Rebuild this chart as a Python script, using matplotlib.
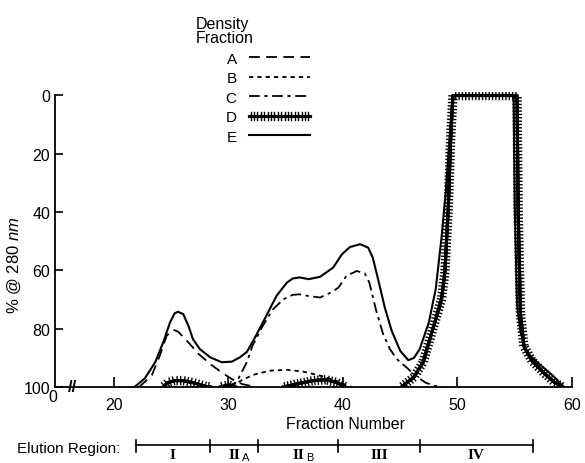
import matplotlib
matplotlib.use("Agg")
import matplotlib.pyplot as plt
import matplotlib.patheffects as pe
import matplotlib.transforms as mtrans

plt.rcParams['font.family'] = ['Liberation Sans', 'DejaVu Sans']
plt.rcParams['mathtext.fontset'] = 'custom'
plt.rcParams['mathtext.rm'] = 'Liberation Sans'
plt.rcParams['mathtext.it'] = 'Liberation Sans:italic'

# --- valeurs (x = numero de fraction, y = % @ 280 nm) ---
xA = [22.2, 23.3, 24.0, 24.6, 25.2, 25.6, 26.5, 27.4, 28.4, 29.4, 30.3, 31.2, 32.4]
yA = [100, 96, 89.3, 82.4, 80.4, 81, 84.7, 88.7, 92.1, 95, 97.3, 99, 100]

xB = [30.3, 31.0, 32.1, 33.6, 35.1, 36.5, 38.0, 39.4, 40.3, 40.8]
yB = [100, 98, 95.9, 94.4, 94.1, 94.7, 96.1, 97.8, 99.5, 100]

xC = [29.8, 30.7, 31.6, 32.1, 33.0, 33.9, 34.8, 35.6, 36.2, 37.0, 38.0, 39.0,
      39.6, 40.3, 41.2, 41.9, 42.3, 42.9, 43.5, 44.1, 44.7, 45.55, 46.3, 47.2,
      48.0, 48.7]
yC = [100, 98.4, 91.5, 85.8, 79, 73.3, 69.9, 68.4, 68.2, 68.8, 69.3, 67.5,
      65.9, 61.9, 60.2, 61, 64.2, 73.8, 81.8, 87, 90.4, 93.3, 96, 98.5,
      99.6, 100]

# D : plusieurs morceaux separes
xD = [[24.3, 24.7, 25.3, 26.0, 26.8, 27.5, 28.0, 28.4],
      [29.3, 30.0, 30.6],
      [34.8, 35.9, 37.4, 38.5, 39.4, 40.0, 40.2],
      [45.1, 46.2, 47.0, 47.5, 48.1, 48.6, 48.9, 49.2, 49.4, 49.6,
       55.2, 55.3, 55.5, 55.8, 56.5, 57.5, 58.5, 59.2]]
yD = [[100, 98.5, 97.8, 97.8, 98.4, 99.2, 99.8, 100],
      [100, 99.3, 100],
      [100, 99, 97.8, 97.5, 98.4, 99.5, 100],
      [100, 96.6, 91.5, 84.7, 76.7, 70, 60.6, 38, 15, 0,
       0, 40, 75, 86, 91, 95, 98.5, 100]]

xE = [21.8, 22.7, 23.6, 24.3, 24.9, 25.3, 25.6, 26.05, 26.5, 26.9, 27.5, 28.4,
      29.4, 30.3, 31.0, 31.6, 32.4, 33.3, 34.2, 35.1, 35.6, 36.2, 37.0, 38.0,
      39.15, 39.9, 40.6, 41.5, 42.2, 42.6, 43.1, 43.65, 44.25, 45.0, 45.7, 46.2,
      46.7, 47.5, 48.1, 48.6, 49.0, 49.4, 49.6, 54.9, 55.0, 55.2, 55.5, 56.0,
      57.1, 58.3, 59.3]
yE = [100, 97, 91.5, 84.7, 77.8, 74.7, 74.2, 75, 79, 83.6, 87, 89.8,
      91.5, 91.3, 89.8, 88, 82.4, 75.6, 68.7, 64.2, 62.8, 62.4, 63, 62.2,
      59, 54.5, 52, 51, 52.2, 55.6, 63.6, 72.7, 80.7, 87.6, 90.8, 90,
      87, 77.8, 66.4, 49, 32, 9, 0, 0, 38, 72, 81, 88,
      92, 96, 100]

# regions d'elution
bornes = [21.9, 28.4, 32.6, 39.6, 46.7, 56.6]
regions = ["I", "II", "II", "III", "IV"]
indices = ["", "A", "B", "", ""]

fig = plt.figure(figsize=(5.85, 4.64), dpi=100)
W, H = 585., 464.
ax = fig.add_axes([55/W, 1-388/H, (572-55)/W, (388-93)/H])

lw = 1.3
hachure = [pe.Normal(),
           pe.withTickedStroke(angle=90, spacing=2.4, length=1.2, linewidth=1.0),
           pe.withTickedStroke(angle=-90, spacing=2.4, length=1.2, linewidth=1.0)]
lA, = ax.plot(xA, yA, color='black', lw=lw, linestyle=(0, (6, 3.5)))
lB, = ax.plot(xB, yB, color='black', lw=lw, linestyle=(0, (2.4, 2.2)))
lC, = ax.plot(xC, yC, color='black', lw=lw, linestyle=(0, (6, 2.5, 1.8, 2.5)))
for xs, ys in zip(xD, yD):
    lD, = ax.plot(xs, ys, color='black', lw=2.2, path_effects=hachure)
lE, = ax.plot(xE, yE, color='black', lw=1.5)

ax.set_xlim(14.85, 60)
ax.set_ylim(100, -1.2)
for s in ['top', 'right']:
    ax.spines[s].set_visible(False)
ax.spines['left'].set_bounds(0, 100)
ax.spines['left'].set_linewidth(1.3)
ax.spines['bottom'].set_linewidth(1.3)
ax.set_xticks([20, 30, 40, 50, 60])
ax.set_yticks([0, 20, 40, 60, 80, 100])
ax.tick_params(axis='both', direction='in', width=1.2, labelsize=11.5)
ax.tick_params(axis='y', length=6, pad=3.5)
ax.tick_params(axis='x', length=7, pad=7)

ax.annotate("0", xy=(14.85, 100), xytext=(-1.5, -6.5), textcoords='offset points',
            ha='center', va='center', fontsize=11.5)
ax.text(16.4, 100, "//", ha='center', va='center', fontsize=12, fontweight='bold')

ax.set_xlabel("Fraction Number", fontsize=11.5)
ax.xaxis.set_label_coords((346-55)/517, (388-417)/295)
ax.set_ylabel(r"% @ $\mathit{280\ nm}$", fontsize=12)
ax.yaxis.set_label_coords((23-55)/517, (388-265)/295)

# legende
fig.text(196/W, 1-17/H, "Density\nFraction", ha='left', va='top', fontsize=11.5,
         linespacing=0.95)
leg = ax.legend([lA, lB, lC, lD, lE], ["A", "B", "C", "D", "E"],
                markerfirst=False, frameon=False, fontsize=11,
                handlelength=4.0, handletextpad=0.8, labelspacing=0.36,
                loc='upper left', bbox_to_anchor=(218/W, 1-45/H),
                bbox_transform=fig.transFigure, borderpad=0)

# regions d'elution sous l'axe
tr = mtrans.blended_transform_factory(ax.transData, fig.transFigure)
yb = 1-446/H
ax.plot([bornes[0], bornes[-1]], [yb, yb], color='black', lw=1.2, transform=tr, clip_on=False)
for b in bornes:
    ax.plot([b, b], [1-441/H, 1-453/H], color='black', lw=1.2, transform=tr, clip_on=False)
for i, lab in enumerate(regions):
    xm = 0.5*(bornes[i]+bornes[i+1])
    ax.text(xm, 1-455.5/H, lab, transform=tr, ha='center', va='center', fontsize=11,
            fontweight='bold', family='Liberation Serif', clip_on=False)
    if indices[i]:
        ax.annotate(indices[i], xy=(xm, 1-455.5/H), xycoords=tr, xytext=(5.5, -2),
                    textcoords='offset points', ha='left', va='center', fontsize=8)
fig.text(17/W, 1-449/H, "Elution Region:", ha='left', va='center', fontsize=11)

fig.savefig("out.png", dpi=100)
